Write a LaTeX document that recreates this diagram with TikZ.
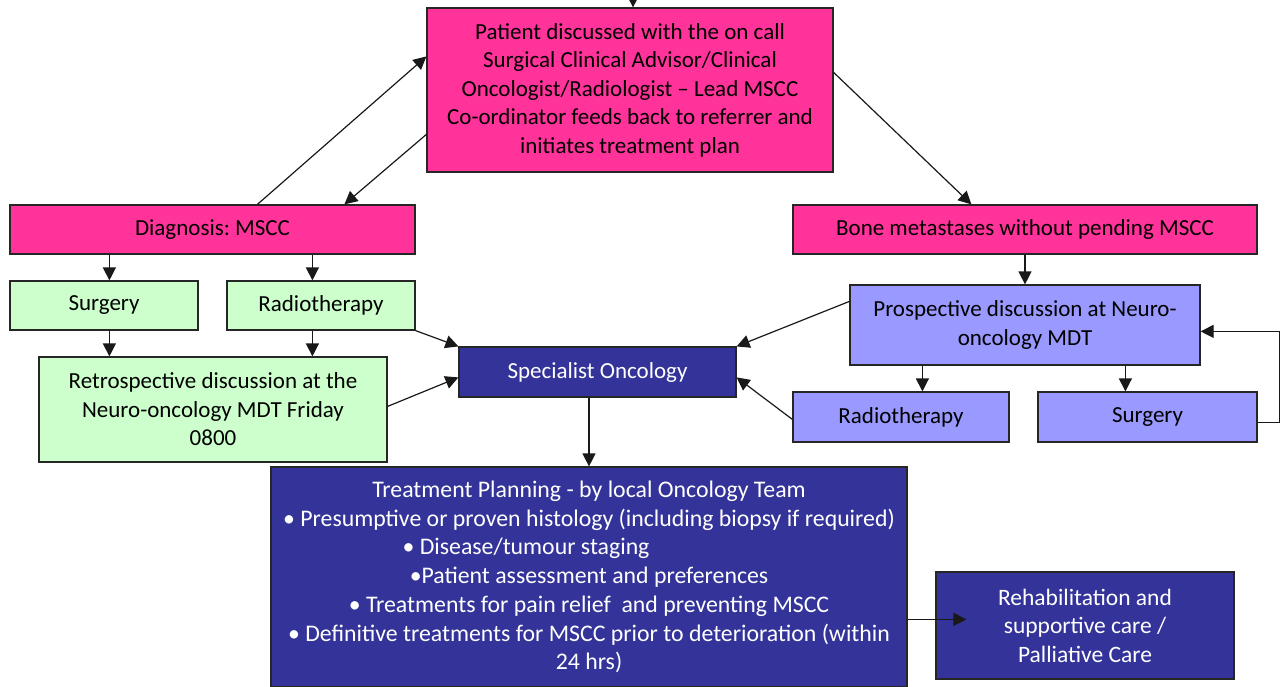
\documentclass[tikz,border=0pt]{standalone}
\usepackage{fontspec}
\setmainfont{Carlito}
\usetikzlibrary{arrows.meta}
\definecolor{pinkbox}{HTML}{FF3399}
\definecolor{greenbox}{HTML}{CCFFCC}
\definecolor{lilacbox}{HTML}{9999FF}
\definecolor{navybox}{HTML}{333399}
\tikzset{
  box/.style={draw=black!85, line width=1.2pt, align=center, inner sep=0pt,
    font=\fontsize{23}{28.5}\selectfont},
  pinkb/.style={box, fill=pinkbox, text=black},
  greenb/.style={box, fill=greenbox, text=black},
  lilacb/.style={box, fill=lilacbox, text=black},
  navyb/.style={box, fill=navybox, text=white},
  arr/.style={-{Triangle[length=13pt,width=13pt]}, line width=1.2pt, draw=black!90},
}
\begin{document}
\frenchspacing
\begin{tikzpicture}[x=1pt,y=-1pt]
\useasboundingbox (0,0) rectangle (1284,686);
% nodes
\node[pinkb, minimum width=406pt, minimum height=164pt] (top) at (630,90)
  {Patient discussed with the on call\\Surgical Clinical Advisor/Clinical\\Oncologist/Radiologist -- Lead MSCC\\Co-ordinator feeds back to referrer and\\initiates treatment plan};
\node[pinkb, minimum width=405pt, minimum height=49pt] (diag) at (212.5,229.5) {Diagnosis:\ MSCC};
\node[pinkb, minimum width=464pt, minimum height=49pt] (bone) at (1025,229.5) {Bone metastases without pending MSCC};
\node[greenb, minimum width=188pt, minimum height=49pt] (gsurg) at (104,305.5) {Surgery};
\node[greenb, minimum width=188pt, minimum height=49pt] (grad) at (321,305.5) {Radiotherapy};
\node[greenb, minimum width=348pt, minimum height=105pt] (retro) at (213,409.5)
  {Retrospective discussion at the\\Neuro-oncology MDT Friday\\0800};
\node[navyb, minimum width=277pt, minimum height=50pt] (spec) at (597.5,372) {Specialist Oncology};
\node[lilacb, minimum width=350pt, minimum height=80pt] (prosp) at (1025,325)
  {Prospective discussion at Neuro-\\oncology MDT};
\node[lilacb, minimum width=216pt, minimum height=50pt] (brad) at (901,417) {Radiotherapy};
\node[lilacb, minimum width=219pt, minimum height=50pt] (bsurg) at (1147.5,417) {Surgery};
\node[navyb, minimum width=636pt, minimum height=220pt, font=\fontsize{23.8}{28.7}\selectfont] (plan) at (589,577)
  {Treatment Planning - by local Oncology Team\\
   • Presumptive or proven histology (including biopsy if required)\\
   • Disease/tumour staging\rule{126pt}{0pt}\\
   •Patient assessment and preferences\\
   • Treatments for pain relief~ and preventing MSCC\\
   • Definitive treatments for MSCC prior to deterioration (within\\
   24 hrs)};
\node[navyb, minimum width=298pt, minimum height=107pt, font=\fontsize{23.5}{28.5}\selectfont] (rehab) at (1085,625.5)
  {Rehabilitation and\\supportive care /\\Palliative Care};
% connectors
\coordinate (inc) at (633,-6);
\draw[arr] (inc) -- ([xshift=3pt]top.north);
\draw[arr] ([xshift=248pt]diag.north west) -- ([yshift=-49pt]top.north west);
\draw[arr] ([yshift=-127pt]top.north west) -- ([xshift=335pt]diag.north west);
\draw[arr] ([yshift=-65pt]top.north east) -- ([xshift=179pt]bone.north west);
\draw[arr] ([xshift=100pt]diag.south west) -- ([xshift=100pt]gsurg.north west);
\draw[arr] ([xshift=303pt]diag.south west) -- ([xshift=86pt]grad.north west);
\draw[arr] ([xshift=100pt]gsurg.south west) -- ([xshift=71pt]retro.north west);
\draw[arr] ([xshift=86pt]grad.south west) -- ([xshift=274pt]retro.north west);
\draw[arr] (grad.south east) -- (spec.north west);
\draw[arr] ([yshift=-50pt]retro.north east) -- ([yshift=-31pt]spec.north west);
\draw[arr] ([yshift=-17pt]prosp.north west) -- (spec.north east);
\draw[arr] ([yshift=-28pt]brad.north west) -- ([yshift=-31pt]spec.north east);
\draw[arr] (bone.south) -- (prosp.north);
\draw[arr] ([xshift=73pt]prosp.south west) -- ([xshift=130pt]brad.north west);
\draw[arr] ([xshift=276pt]prosp.south west) -- ([xshift=88pt]bsurg.north west);
\draw[arr] ([yshift=-31pt]bsurg.north east) -- ++(22,0) |- ([yshift=-47pt]prosp.north east);
\draw[arr] (spec.south -| plan.north) -- (plan.north);
\draw[arr] ([yshift=-153pt]plan.north east) -- ([xshift=31pt,yshift=-48pt]rehab.north west);
\end{tikzpicture}
\end{document}
